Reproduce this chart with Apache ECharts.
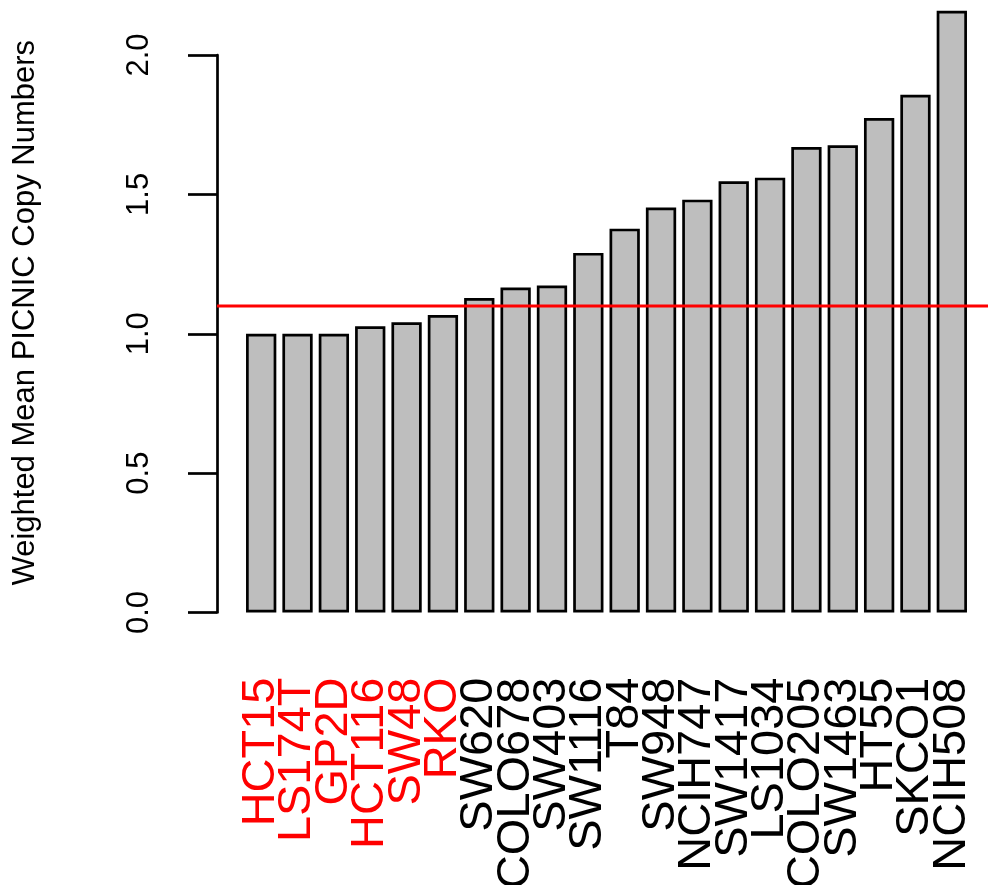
<!DOCTYPE html>
<html>
<head>
<meta charset="utf-8">
<script src="https://cdn.jsdelivr.net/npm/echarts@6/dist/echarts.min.js"></script>
<style>
  html, body { margin: 0; padding: 0; background: #ffffff; }
  #chart { width: 988px; height: 885px; }
</style>
</head>
<body>
<div id="chart"></div>
<script>
// Cell lines, ordered by weighted mean copy number
const cellLines = ['HCT15', 'LS174T', 'GP2D', 'HCT116', 'SW48', 'RKO', 'SW620', 'COLO678', 'SW403',
  'SW1116', 'T84', 'SW948', 'NCIH747', 'SW1417', 'LS1034', 'COLO205', 'SW1463', 'HT55', 'SKCO1', 'NCIH508'];
const copyNumbers = [1.0, 1.0, 1.0, 1.027, 1.041, 1.067, 1.128, 1.166, 1.173,
  1.290, 1.377, 1.453, 1.481, 1.547, 1.560, 1.670, 1.676, 1.774, 1.857, 2.159];
// Lines drawn in red on the axis
const highlighted = ['HCT15', 'LS174T', 'GP2D', 'HCT116', 'SW48', 'RKO'];
// Threshold line
const threshold = 1.1;
const yTicks = [0, 0.5, 1.0, 1.5, 2.0];

const font = 'Liberation Sans, Arial, Helvetica, sans-serif';
const chart = echarts.init(document.getElementById('chart'), null, { renderer: 'canvas' });

chart.setOption({
  backgroundColor: '#ffffff',
  animation: false,
  grid: [
    { left: 243, right: 18, top: 55, bottom: 272.5, outerBoundsMode: 'none', containLabel: false },
    { left: 217, right: 0, top: 55, bottom: 272.5, outerBoundsMode: 'none', containLabel: false }
  ],
  xAxis: [
    {
      type: 'category',
      gridIndex: 0,
      data: cellLines,
      boundaryGap: true,
      axisLine: { show: false },
      axisTick: { show: false },
      axisLabel: {
        rotate: 90,
        margin: 65,
        fontFamily: font,
        fontSize: 47,
        interval: 0,
        color: (value) => highlighted.includes(value) ? '#ff0000' : '#000000'
      }
    },
    {
      type: 'value', gridIndex: 1, min: 0, max: 1, show: false
    }
  ],
  yAxis: [
    {
      type: 'value',
      gridIndex: 0,
      min: yTicks[0],
      max: yTicks[yTicks.length - 1],
      interval: 0.5,
      offset: 26,
      name: 'Weighted Mean PICNIC Copy Numbers',
      nameLocation: 'middle',
      nameRotate: 90,
      nameGap: 176,
      nameTextStyle: { fontFamily: font, fontSize: 31, color: '#000000', padding: [0, 0, 0, 42] },
      axisLine: { show: true, lineStyle: { color: '#000000', width: 2.7 } },
      axisTick: { show: true, length: 29, lineStyle: { color: '#000000', width: 2.7 } },
      splitLine: { show: false },
      axisLabel: {
        rotate: 90,
        margin: 62,
        fontFamily: font,
        fontSize: 31,
        color: '#000000',
        formatter: (v) => v.toFixed(1)
      }
    },
    {
      type: 'value', gridIndex: 1, min: 0, max: 2, show: false
    }
  ],
  series: [
    {
      type: 'bar',
      xAxisIndex: 0,
      yAxisIndex: 0,
      data: copyNumbers,
      barWidth: 30.3,
      clip: false,
      itemStyle: { color: '#bebebe', borderColor: '#000000', borderWidth: 2.7 }
    },
    {
      type: 'line',
      xAxisIndex: 1,
      yAxisIndex: 1,
      data: [[0, threshold], [1, threshold]],
      symbol: 'none',
      lineStyle: { color: '#ff0000', width: 3 },
      z: 5
    }
  ]
});
</script>
</body>
</html>
